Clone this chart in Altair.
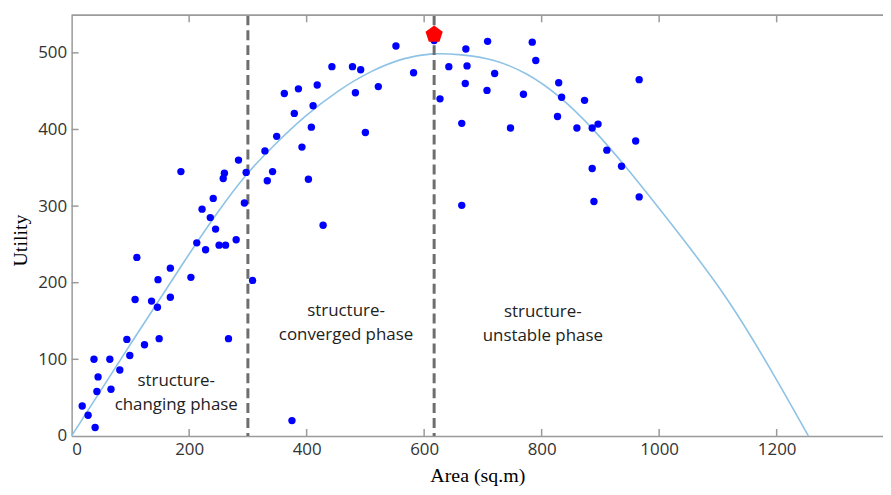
import altair as alt
import pandas as pd

# ---- data ----
points_area = [18, 28, 40, 38, 45, 43, 65, 67, 82, 94, 99, 108, 111, 124, 136, 146, 147, 149, 168, 168,
               186, 203, 213, 222, 228, 236, 241, 245, 251, 262, 258, 260, 267, 280, 284, 294, 297, 308, 375,
               329, 333, 342, 349, 362, 379, 386, 392, 403, 408, 411, 418, 428, 443, 478, 483, 492, 500, 522,
               552, 582, 617,
               627, 642, 671, 673, 670, 708, 720, 707, 664, 664, 747, 769, 784, 790, 829, 834, 873, 827, 860,
               886, 896, 911, 960, 966, 886, 936, 889, 966]
points_utility = [39, 27, 11, 100, 77, 58, 100, 61, 86, 126, 105, 178, 233, 119, 176, 168, 204, 127, 219, 181,
                  345, 207, 252, 296, 243, 285, 310, 270, 249, 249, 336, 343, 127, 256, 360, 304, 344, 203, 20,
                  372, 333, 345, 391, 447, 421, 453, 377, 335, 403, 431, 458, 275, 482, 482, 448, 478, 396, 456,
                  509, 474, 516,
                  440, 482, 505, 483, 460, 515, 473, 451, 408, 301, 402, 446, 514, 490, 461, 442, 438, 417, 402,
                  402, 407, 373, 385, 465, 349, 352, 306, 312]

curve_area = [0, 100, 200, 250, 298, 341, 397, 453, 510, 566, 614, 662, 719, 775, 831, 888, 944, 1000,
              1040, 1119, 1187, 1254]
curve_utility = [0, 120, 238, 294, 343, 377, 418, 451, 477, 494, 500, 498, 492, 474, 444, 401, 351, 297,
                 258, 178, 91, 0]

boundary_area = [300, 617]

peak_area = [617]
peak_utility = [524]

phase_area = [178, 467, 802]
phase_utility = [72, 163, 162]
phase_label = ["structure-\nchanging phase", "structure-\nconverged phase", "structure-\nunstable phase"]

x_ticks = [0, 200, 400, 600, 800, 1000, 1200]
y_ticks = [0, 100, 200, 300, 400, 500]

# ---- tables ----
pts = pd.DataFrame({"area": points_area, "utility": points_utility})
curve = pd.DataFrame({"area": curve_area, "utility": curve_utility})
bounds = pd.DataFrame({"area": boundary_area})
peak = pd.DataFrame({"area": peak_area, "utility": peak_utility})
phases = pd.DataFrame({"area": phase_area, "utility": phase_utility, "label": phase_label})
xt = pd.DataFrame({"area": x_ticks[1:]})
yt = pd.DataFrame({"utility": y_ticks[1:]})

W, H = 816, 423
FRAME = "#9a9a9a"

xs = alt.Scale(domain=[0, 1381], nice=False, zero=False)
ys = alt.Scale(domain=[0, 549], nice=False, zero=False)

X = alt.X("area:Q", scale=xs, title="Area (sq.m)",
          axis=alt.Axis(values=x_ticks, format="d", ticks=False, grid=False, labelPadding=6,
                        titleY=40, titleBaseline="middle"))
Y = alt.Y("utility:Q", scale=ys, title="Utility",
          axis=alt.Axis(values=y_ticks, format="d", ticks=False, grid=False, labelPadding=5,
                        titleX=-51, titleY=226, titleBaseline="middle", titleAngle=270))

curve_layer = alt.Chart(curve).mark_line(color="#8ec3e6", strokeWidth=1.6,
                                         interpolate="basis").encode(x=X, y=Y)

dash_layer = alt.Chart(bounds).mark_rule(color="#6e6e6e", strokeWidth=3,
                                         strokeDash=[10, 5]).encode(
    x=alt.X("area:Q", scale=xs), y=alt.value(0), y2=alt.value(H))

pts_layer = alt.Chart(pts).mark_circle(color="#0000ff", opacity=1, size=55).encode(
    x=alt.X("area:Q", scale=xs), y=alt.Y("utility:Q", scale=ys))

pent = "M0,-1L0.951,-0.309L0.588,0.809L-0.588,0.809L-0.951,-0.309Z"
peak_layer = alt.Chart(peak).mark_point(shape=pent, filled=True, color="#ff0000",
                                        opacity=1, size=330).encode(
    x=alt.X("area:Q", scale=xs), y=alt.Y("utility:Q", scale=ys))

text_layer = alt.Chart(phases).mark_text(font="Open Sans", fontSize=17, color="#222222",
                                         lineBreak="\n", lineHeight=24,
                                         align="center", baseline="middle").encode(
    x=alt.X("area:Q", scale=xs), y=alt.Y("utility:Q", scale=ys), text="label:N")

top_line = alt.Chart(bounds).mark_rule(color=FRAME, strokeWidth=1.5).encode(
    x=alt.value(0), x2=alt.value(W), y=alt.value(0))

bottom_ticks = alt.Chart(xt).mark_rule(color=FRAME, strokeWidth=1.5).encode(
    x=alt.X("area:Q", scale=xs), y=alt.value(H), y2=alt.value(H - 7))
top_ticks = alt.Chart(xt).mark_rule(color=FRAME, strokeWidth=1.5).encode(
    x=alt.X("area:Q", scale=xs), y=alt.value(0), y2=alt.value(7))
left_ticks = alt.Chart(yt).mark_rule(color=FRAME, strokeWidth=1.5).encode(
    y=alt.Y("utility:Q", scale=ys), x=alt.value(0), x2=alt.value(7))

chart = alt.layer(
    curve_layer, dash_layer, pts_layer, text_layer, top_line,
    bottom_ticks, top_ticks, left_ticks, peak_layer
).properties(
    width=W, height=H,
    padding={"left": 64, "top": 6, "right": 0, "bottom": 50},
    autosize=alt.AutoSizeParams(type="none"),
).configure_view(stroke=None).configure_axis(
    domainColor=FRAME, domainWidth=1.5,
    labelFont="Open Sans", labelFontSize=17, labelColor="#333333",
    titleFont="Liberation Serif", titleFontSize=20, titleFontWeight="normal",
    titleColor="#000000",
)

chart.save("out.html", embed_options={"renderer": "svg", "actions": False})
